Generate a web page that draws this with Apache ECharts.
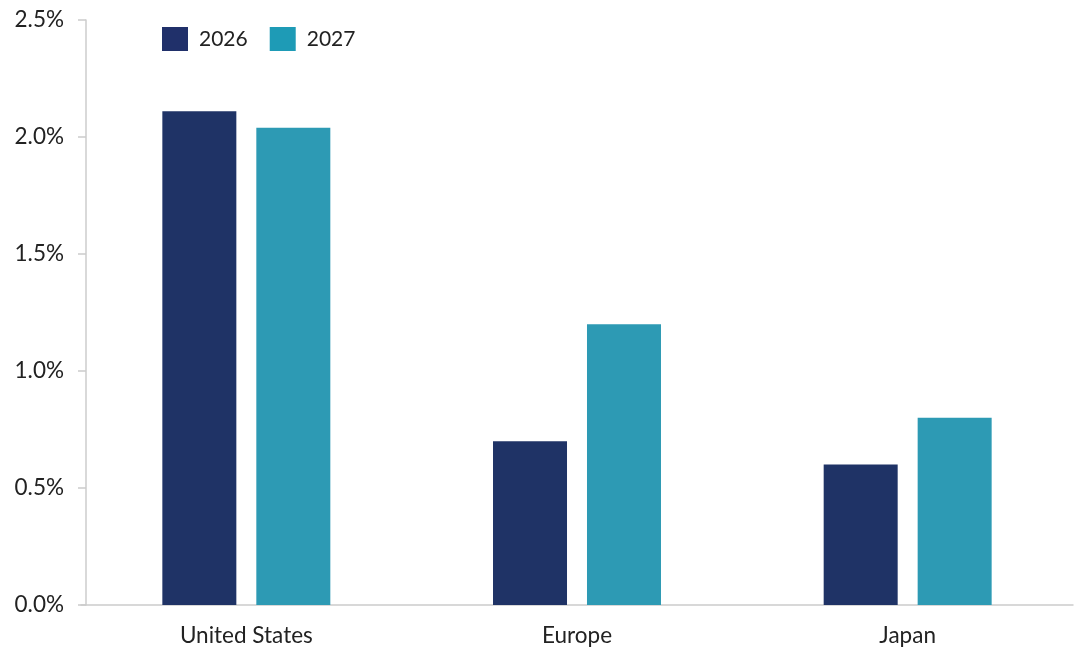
<!DOCTYPE html>
<html>
<head>
<meta charset="utf-8">
<script src="https://cdn.jsdelivr.net/npm/echarts@6/dist/echarts.min.js"></script>
<style>
  html, body { margin: 0; padding: 0; background: #fff; }
  #main { width: 1078px; height: 654px; }
</style>
</head>
<body>
<div id="main"></div>
<script>
const regions = ['United States', 'Europe', 'Japan'];
const growth2026 = [2.11, 0.7, 0.6];
const growth2027 = [2.04, 1.2, 0.8];
const yTicks = { min: 0, max: 2.5, step: 0.5 };

const chart = echarts.init(document.getElementById('main'));
const font = 'Lato';

const option = {
  animation: false,
  grid: { left: 81, right: 5, top: 20, bottom: 49, containLabel: false },
  legend: {
    left: 162,
    top: 27,
    padding: 0,
    itemWidth: 26,
    itemHeight: 24,
    itemGap: 22,
    icon: 'rect',
    textStyle: { fontFamily: font, fontSize: 21, color: '#222', padding: [0, 0, 0, 6] },
    data: [
      { name: '2026', itemStyle: { color: '#20306a' } },
      { name: '2027', itemStyle: { color: '#1e9bb6' } }
    ]
  },
  xAxis: {
    type: 'category',
    data: regions,
    axisLine: { lineStyle: { color: '#cccccc', width: 1.5 } },
    axisTick: { show: false },
    axisLabel: { fontFamily: font, fontSize: 22.5, color: '#222', margin: 19 }
  },
  yAxis: {
    type: 'value',
    min: yTicks.min,
    max: yTicks.max,
    interval: yTicks.step,
    offset: -5,
    axisLine: { show: true, lineStyle: { color: '#cccccc', width: 1.5 } },
    axisTick: { show: true, length: 8, lineStyle: { color: '#cccccc', width: 1.5 } },
    splitLine: { show: false },
    axisLabel: {
      fontFamily: font, fontSize: 22.5, color: '#222', margin: 22,
      formatter: v => v.toFixed(1) + '%'
    }
  },
  series: [
    {
      name: '2026',
      type: 'bar',
      data: growth2026,
      barWidth: 74,
      barGap: '27%',
      itemStyle: { color: '#1f3366' }
    },
    {
      name: '2027',
      type: 'bar',
      data: growth2027,
      barWidth: 74,
      itemStyle: { color: '#2d9ab4' }
    }
  ]
};

chart.setOption(option);
</script>
</body>
</html>
